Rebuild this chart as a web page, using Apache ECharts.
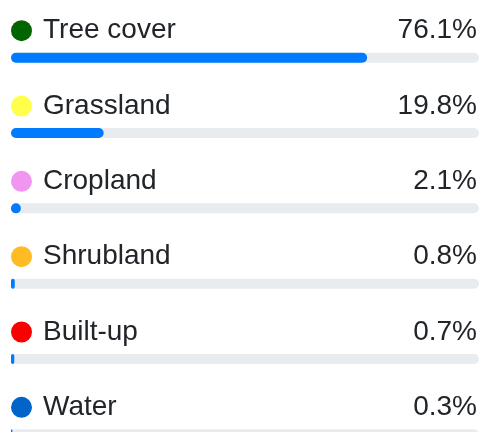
<!DOCTYPE html>
<html>
<head>
<meta charset="utf-8">
<script src="https://cdn.jsdelivr.net/npm/echarts@6/dist/echarts.min.js"></script>
<style>
  html, body { margin: 0; padding: 0; background: #fff; }
  #main { width: 481px; height: 432px; }
</style>
</head>
<body>
<div id="main"></div>
<script>
// land cover shares
var classes = ['Tree cover', 'Grassland', 'Cropland', 'Shrubland', 'Built-up', 'Water'];
var shares = [76.1, 19.8, 2.1, 0.8, 0.7, 0.3];
var dotColors = ['#006400', '#ffff4c', '#f096f0', '#ffbb22', '#fa0000', '#0064c8'];
var fullScale = [100, 100, 100, 100, 100, 100];

var textColor = '#212529';
var font = "'Liberation Sans', Arial, Helvetica, sans-serif";

var rich = {
    sp: { width: 11, height: 30 },
    name: { width: 300, fontSize: 28, color: textColor, fontFamily: font, lineHeight: 30, verticalAlign: 'middle' },
    pct: { width: 134, align: 'right', fontSize: 28, color: textColor, fontFamily: font, lineHeight: 30, verticalAlign: 'middle' }
};
dotColors.forEach(function (c, i) {
    rich['dot' + i] = { width: 21, height: 21, borderRadius: 10.5, backgroundColor: c, verticalAlign: 'middle' };
});

var myChart = echarts.init(document.getElementById('main'));
myChart.setOption({
    animation: false,
    grid: { left: 11, right: 2, top: 20, height: 452, outerBoundsMode: 'none', containLabel: false },
    xAxis: { type: 'value', min: 0, max: 100, show: false },
    yAxis: { type: 'category', data: classes, inverse: true, show: false },
    series: [
        {
            // grey track plus the text row above it
            type: 'bar',
            data: fullScale,
            barWidth: 10,
            silent: true,
            clip: false,
            itemStyle: { color: '#e9ecef', borderRadius: 5 },
            label: {
                show: true,
                position: [0, -22],
                align: 'left',
                verticalAlign: 'middle',
                formatter: function (p) {
                    var i = p.dataIndex;
                    return '{dot' + i + '|}{sp|}{name|' + classes[i] + '}{pct|' + shares[i].toFixed(1) + '%}';
                },
                rich: rich
            }
        },
        {
            type: 'bar',
            data: shares,
            barWidth: 10,
            barGap: '-100%',
            silent: true,
            clip: false,
            itemStyle: { color: '#007bff', borderRadius: 5 }
        }
    ]
});
</script>
</body>
</html>
